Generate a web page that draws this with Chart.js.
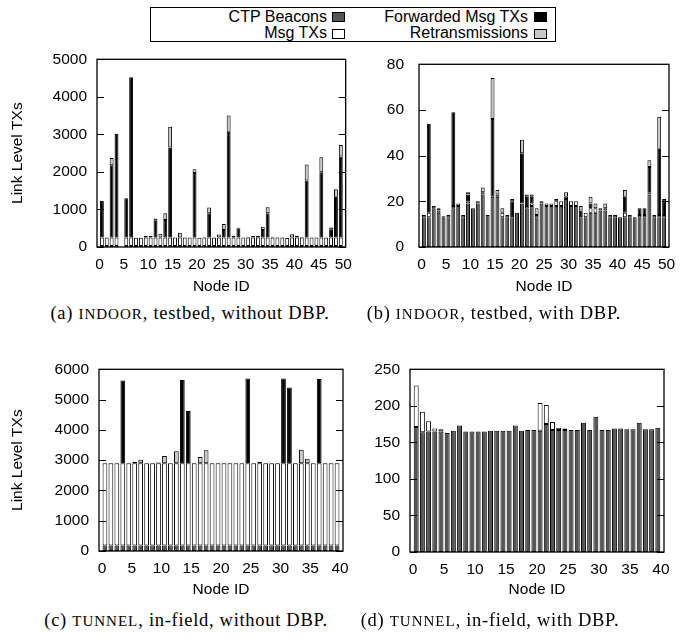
<!DOCTYPE html>
<html>
<head>
<meta charset="utf-8">
<script src="https://cdn.jsdelivr.net/npm/chart.js@4.4.1/dist/chart.umd.min.js"></script>
<style>
  html, body { margin:0; padding:0; background:#fff; }
  body { width:689px; height:640px; position:relative; overflow:hidden;
         font-family:"Liberation Sans", Arial, Helvetica, sans-serif; color:#000; }
  canvas { position:absolute; }
  #legend { position:absolute; left:150px; top:7px; width:404px; height:33px; border:1px solid #000; background:#fff; }
  #legend .t { position:absolute; font-size:16px; line-height:16px; white-space:nowrap; }
  #legend .s { position:absolute; width:11px; height:8px; border:1px solid #000; }
  .cap { position:absolute; font-family:"Liberation Serif", "Times New Roman", serif; font-size:18.5px;
         letter-spacing:0.7px; line-height:20px; white-space:nowrap; transform:translateX(-50%); }
  .cap .sc { font-size:15px; letter-spacing:1px; }
</style>
</head>
<body>
<div id="legend">
  <span class="t" style="right:228px; top:1px;">CTP Beacons</span>
  <span class="s" style="left:181px; top:4px; background:#555555;"></span>
  <span class="t" style="right:27px; top:1px;">Forwarded Msg TXs</span>
  <span class="s" style="left:383px; top:4px; background:#000000;"></span>
  <span class="t" style="right:228px; top:17px;">Msg TXs</span>
  <span class="s" style="left:181px; top:21px; background:#ffffff;"></span>
  <span class="t" style="right:27px; top:17px;">Retransmissions</span>
  <span class="s" style="left:383px; top:21px; background:#c8c8c8;"></span>
</div>

<canvas id="ca"></canvas>
<canvas id="cb"></canvas>
<canvas id="cc"></canvas>
<canvas id="cd"></canvas>

<div class="cap" style="left:190px; top:303px;">(a) <span class="sc">INDOOR</span>, testbed, without DBP.</div>
<div class="cap" style="left:494px; top:303px;">(b) <span class="sc">INDOOR</span>, testbed, with DBP.</div>
<div class="cap" style="left:186px; top:610px;">(c) <span class="sc">TUNNEL</span>, in-field, without DBP.</div>
<div class="cap" style="left:490px; top:610px;">(d) <span class="sc">TUNNEL</span>, in-field, with DBP.</div>

<script>
// ---------------- DATA ----------------
const seriesNames = ['CTP Beacons', 'Msg TXs', 'Forwarded Msg TXs', 'Retransmissions'];

// INDOOR testbed nodes
const nodesIndoor = [1,2,3,4,5,6,7,8,9,10,11,12,13,14,15,16,17,18,19,20,21,22,23,24,25,
                     26,27,28,29,30,31,32,33,34,35,36,37,38,39,40,41,42,43,44,45,46,47,48,49,50];
// TUNNEL in-field nodes
const nodesTunnel = [1,2,3,4,5,6,7,8,9,10,11,12,13,14,15,16,17,18,19,20,
                     21,22,23,24,25,26,27,28,29,30,31,32,33,34,35,36,37,38,39,40];

// (a) INDOOR, testbed, without DBP
const aCTP  = [25,25,25,25,null,25,25,25,25,25, 25,25,25,25,25,25,25,25,25,25, 25,25,25,25,25,25,25,25,25,25,
               25,25,25,25,25,25,25,25,25,25, 25,25,25,25,25,25,25,25,25,25];
const aMsg  = [225,225,225,225,null,225,225,220,220,225, 225,225,225,225,225,225,225,225,225,225,
               220,225,225,225,225,225,225,225,225,225, 225,225,225,225,225,225,225,225,215,225,
               225,225,225,225,225,225,225,225,225,225];
const aFwd  = [980,0,1930,2770,null,1050,4270,0,0,0, 0,450,0,470,2400,0,0,0,0,1720,
               0,0,650,0,0,200,2820,0,250,0, 0,0,0,200,650,0,0,0,0,0,
               0,0,1520,0,0,1740,0,210,1090,2160];
const aRetx = [0,0,190,0,null,0,0,0,0,40, 50,60,100,180,550,0,130,10,0,100,
               0,10,150,0,80,160,430,50,10,0, 20,40,40,90,160,20,10,10,0,90,
               50,20,430,10,0,400,0,60,200,310];

// (b) INDOOR, testbed, with DBP
const bCTP  = [13,13,17,15,13,13,17,18,13,19, 17,19,23,14,22,22,13,13,13,15,
               19,17,18,13,19,18,18,18,18,21, 18,18,13,13,15,15,16,16,13,13,
               13,13,13,13,13,13,23,13,13,13];
const bMsg  = [1,2,1,1,0.5,1,1,1,1,1, 0,1,1,0,0,1,2,1,0,0,
               0,1,1,1,1,1,1,2,2,1, 2,2,0,2,2,2,1,1,1,1,
               0,2,1,0,1,1,1,1,1,1];
const bFwd  = [0,39,0,1,0,0,41,0,0,3, 0,0,0,0,34,0,0,0,7,0,
               22,4,3,0,0,0,0,0,0,0, 0,0,3,0,2,0,0,0,0,0,
               0,7,0,0,3,3,11,0,29,6];
const bRetx = [0,0,0,0,0,0,0,0,0,1, 0,0,2,0,18,2,2,0,1,0,
               6,1,1,3,0,0,0,1,0,2, 0,0,2,0,3,2,0,2,0,0,
               0,3,0,0,0,0,3,0,14,1];

// (c) TUNNEL, in-field, without DBP
const cCTP  = [180,180,180,180,180,180,180,180,180,180, 180,180,180,180,180,180,180,180,180,180,
               180,180,180,180,180,180,180,180,180,180, 180,180,180,180,180,180,180,180,180,180];
const cMsg  = [2720,2720,2720,2720,2720,2720,2720,2720,2720,2720, 2720,2720,2720,2720,2720,2720,2720,2720,2720,2720,
               2720,2720,2720,2720,2720,2720,2720,2720,2720,2720, 2720,2720,2720,2720,2720,2720,2720,2720,2720,2720];
const cFwd  = [0,0,0,2730,0,0,0,0,0,0, 0,0,0,2750,1720,0,0,0,0,0,
               0,0,0,0,2800,0,0,0,0,0, 2800,2500,0,0,0,0,2780,0,0,0];
const cRetx = [0,0,0,0,0,50,110,0,0,20, 240,0,390,0,0,0,200,430,0,0,
               0,0,0,0,0,0,40,0,0,0, 0,0,0,440,150,0,0,0,0,0];

// (d) TUNNEL, in-field, with DBP
const dCTP  = [171,164,165,165,165,163,166,173,165,165, 165,165,166,166,166,166,173,166,167,167,
               166,175,167,167,167,167,167,177,167,185, 167,167,169,169,168,168,177,168,168,170];
const dMsg  = [57,28,14,4,3,0,0,0,0,0, 0,0,0,0,0,0,0,0,0,0,
               38,26,11,3,2,0,0,0,0,0, 0,0,0,0,0,0,0,0,0,0];
const dFwd  = [0,0,0,0,0,0,0,0,0,0, 0,0,0,0,0,0,0,0,0,0,
               0,0,0,0,0,0,0,0,0,0, 0,0,0,0,0,0,0,0,0,0];
const dRetx = [0,0,0,0,0,0,0,0,0,0, 0,0,0,0,0,0,0,0,0,0,
               0,0,0,0,0,0,0,0,0,0, 0,0,0,0,0,0,0,0,0,0];

// y tick settings
const yTicksA = {max:5000, step:1000};
const yTicksB = {max:80,   step:20};
const yTicksC = {max:6000, step:1000};
const yTicksD = {max:250,  step:50};

// ---------------- STYLE ----------------
const FILLS = ['#555555', '#ffffff', '#000000', '#c8c8c8'];
const SANS = '"Liberation Sans", Arial, Helvetica, sans-serif';
const HIST_SLOT = 0.5;   // histogram slot: bar of node n sits between n-1 and n

const framePlugin = {
  id: 'frame',
  afterDatasetsDraw(chart) {
    const {ctx, chartArea: a} = chart;
    const y = chart.scales.y;
    ctx.save();
    ctx.strokeStyle = '#000';
    ctx.lineWidth = 1;
    y.ticks.forEach(t => {
      const py = Math.round(y.getPixelForValue(t.value)) + 0.5;
      ctx.beginPath();
      ctx.moveTo(a.left, py); ctx.lineTo(a.left + 7, py);
      ctx.moveTo(a.right, py); ctx.lineTo(a.right - 7, py);
      ctx.stroke();
    });
    ctx.lineWidth = 1.3;
    ctx.strokeRect(a.left, a.top, a.right - a.left, a.bottom - a.top);
    ctx.restore();
  }
};

function makeChart(id, box, area, nodes, series, yt, xMax, yTitle, tickPad, yTitlePad, xTitlePad) {
  const cv = document.getElementById(id);
  cv.width = box.w; cv.height = box.h;
  cv.style.left = box.l + 'px'; cv.style.top = box.t + 'px';
  cv.style.width = box.w + 'px'; cv.style.height = box.h + 'px';
  const yW = area.l - box.l;
  const xH = (box.t + box.h) - area.b;
  const datasets = series.map((vals, k) => ({
    label: seriesNames[k],
    data: nodes.map((n, i) => ({x: n - HIST_SLOT, y: vals[i] ? vals[i] : null})),
    backgroundColor: FILLS[k],
    borderColor: '#000',
    borderWidth: 1,
    borderSkipped: false,
    barPercentage: 0.8,
    categoryPercentage: 1.0
  }));
  return new Chart(cv, {
    type: 'bar',
    data: { datasets },
    options: {
      responsive: false,
      animation: false,
      devicePixelRatio: 1,
      layout: { padding: { left: 0, top: area.t - box.t, right: (box.l + box.w) - area.r, bottom: 0 } },
      plugins: { legend: {display:false}, tooltip: {enabled:false} },
      scales: {
        x: {
          type: 'linear', min: -0.5, max: xMax + 0.5, offset: false, stacked: true,
          grid: { display: false, drawTicks: false }, border: { display: false },
          ticks: { stepSize: 5, autoSkip: false, maxRotation: 0, includeBounds: false,
                   padding: 8, color: '#000', font: { family: SANS, size: 15.5 },
                   callback: v => String(v) },
          title: { display: true, text: 'Node ID', color: '#000', font: { family: SANS, size: 15.5 },
                   padding: { top: 0, bottom: xTitlePad } },
          afterFit: s => { s.height = xH; }
        },
        y: {
          type: 'linear', min: 0, max: yt.max, stacked: true,
          grid: { display: false, drawTicks: false }, border: { display: false },
          ticks: { stepSize: yt.step, padding: tickPad, color: '#000', font: { family: SANS, size: 15.5 },
                   callback: v => String(v) },
          title: { display: yTitle, text: 'Link Level TXs', color: '#000', font: { family: SANS, size: 15.5 },
                   padding: { top: yTitlePad, bottom: 0 } },
          afterFit: s => { s.width = yW; }
        }
      }
    },
    plugins: [framePlugin]
  });
}

makeChart('ca', {l:0,   t:40,  w:360, h:260}, {l:97,  t:55,  r:347, b:247},
          nodesIndoor, [aCTP, aMsg, aFwd, aRetx], yTicksA, 50, true, 10, 8.7, 4);
makeChart('cb', {l:355, t:40,  w:334, h:260}, {l:419, t:55,  r:669, b:247},
          nodesIndoor, [bCTP, bMsg, bFwd, bRetx], yTicksB, 50, false, 15, 0, 4);
makeChart('cc', {l:0,   t:350, w:360, h:255}, {l:99,  t:366, r:343, b:551},
          nodesTunnel, [cCTP, cMsg, cFwd, cRetx], yTicksC, 40, true, 10, 8.7, 6);
makeChart('cd', {l:355, t:350, w:334, h:255}, {l:410, t:365, r:664, b:552},
          nodesTunnel, [dCTP, dMsg, dFwd, dRetx], yTicksD, 40, false, 10, 0, 6);
</script>
</body>
</html>
